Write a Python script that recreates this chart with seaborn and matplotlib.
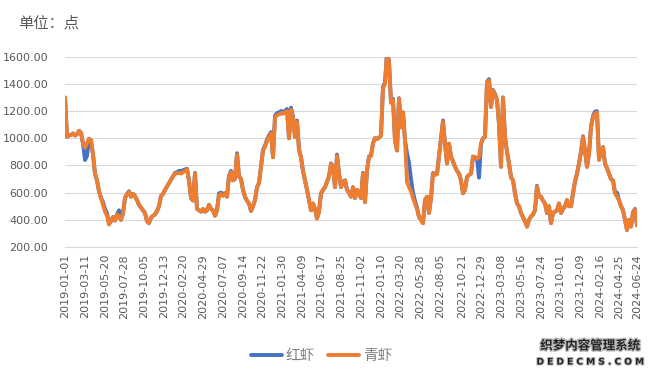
import numpy as np
import pandas as pd
import seaborn as sns
import matplotlib.pyplot as plt
import matplotlib.patheffects as pe

# weekly readings, starting 2019-01-01
start_date = '2019-01-01'

qing = [1300, 1010, 1020, 1025, 1035, 1020, 1030, 1055, 1040, 960,
        930, 965, 995, 985, 880, 740, 690, 610, 560, 510,
        460, 430, 365, 390, 420, 395, 440, 420, 400, 450,
        560, 590, 605, 570, 590, 575, 545, 510, 490, 470,
        450, 390, 375, 415, 430, 440, 465, 500, 575, 590,
        620, 645, 670, 695, 720, 740, 742, 745, 740, 750,
        760, 770, 690, 560, 540, 740, 480, 470, 460, 480,
        460, 470, 510, 480, 470, 430, 470, 580, 590, 575,
        595, 570, 720, 750, 690, 700, 880, 720, 700, 620,
        570, 540, 520, 465, 500, 545, 640, 670, 790, 905,
        935, 980, 1010, 1035, 860, 1150, 1170, 1175, 1185, 1180,
        1190, 1200, 1000, 1210, 1150, 1010, 1120, 910, 860, 760,
        690, 620, 545, 470, 520, 480, 410, 460, 595, 620,
        640, 680, 720, 810, 790, 640, 870, 740, 640, 680,
        690, 620, 600, 570, 640, 560, 620, 590, 560, 740,
        530, 760, 860, 870, 960, 1000, 995, 1005, 1020, 1370,
        1400, 1620, 1560, 1260, 1280, 985, 910, 1290, 1080, 1190,
        985, 680, 640, 610, 560, 520, 480, 420, 400, 375,
        545, 570, 450, 560, 740, 730, 735, 865, 1000, 1120,
        960, 815, 960, 865, 830, 790, 760, 740, 690, 595,
        620, 715, 730, 740, 865, 860, 850, 860, 960, 1000,
        1010, 1410, 1425, 1230, 1350, 1320, 1280, 1105, 790, 1300,
        1010, 900, 815, 715, 690, 595, 520, 500, 450, 420,
        390, 350, 400, 425, 440, 470, 645, 570, 570, 540,
        520, 450, 500, 375, 450, 460, 470, 520, 450, 480,
        500, 545, 500, 500, 595, 680, 740, 815, 900, 1010,
        910, 790, 885, 1080, 1155, 1180, 1190, 840, 910, 935,
        815, 780, 740, 700, 690, 595, 570, 545, 500, 470,
        400, 325, 400, 350, 450, 475, 360]

hong = [1300, 1010, 1020, 1025, 1035, 1020, 1030, 1055, 1040, 960,
        840, 870, 995, 985, 880, 740, 690, 610, 560, 530,
        480, 450, 375, 390, 420, 395, 440, 470, 400, 450,
        560, 590, 610, 570, 590, 575, 545, 510, 490, 470,
        450, 390, 375, 415, 430, 440, 465, 500, 575, 590,
        620, 645, 670, 695, 720, 745, 750, 760, 755, 765,
        770, 775, 690, 560, 545, 745, 480, 470, 460, 480,
        460, 470, 510, 480, 470, 430, 470, 595, 600, 590,
        595, 570, 725, 760, 690, 700, 890, 720, 700, 620,
        570, 540, 520, 465, 500, 545, 640, 670, 790, 915,
        945, 990, 1020, 1045, 860, 1165, 1185, 1190, 1200, 1195,
        1200, 1215, 1000, 1225, 1160, 1010, 1130, 920, 860, 760,
        690, 620, 545, 470, 520, 480, 410, 460, 595, 620,
        640, 680, 720, 815, 790, 640, 880, 740, 640, 680,
        690, 620, 600, 570, 640, 560, 620, 590, 560, 745,
        530, 765, 865, 875, 965, 1000, 995, 1005, 1020, 1380,
        1410, 1630, 1570, 1265, 1290, 985, 910, 1295, 1080, 1190,
        985, 890, 820, 700, 600, 540, 490, 420, 400, 375,
        545, 570, 450, 560, 745, 735, 740, 870, 1005, 1130,
        960, 815, 960, 865, 830, 790, 760, 740, 690, 595,
        620, 715, 730, 740, 865, 860, 850, 710, 960, 1000,
        1010, 1415, 1435, 1230, 1355, 1325, 1280, 1105, 790, 1300,
        1010, 900, 815, 715, 690, 595, 520, 500, 450, 420,
        390, 350, 400, 425, 440, 470, 650, 570, 570, 540,
        520, 450, 500, 375, 450, 460, 470, 520, 450, 480,
        500, 545, 500, 500, 595, 680, 740, 815, 900, 1015,
        910, 790, 885, 1085, 1165, 1195, 1200, 845, 915, 935,
        815, 780, 740, 700, 690, 600, 600, 545, 500, 470,
        400, 325, 400, 350, 455, 480, 360]

tick_dates = ['2019-01-01', '2019-03-11', '2019-05-20', '2019-07-28', '2019-10-05',
              '2019-12-13', '2020-02-20', '2020-04-29', '2020-07-07', '2020-09-14',
              '2020-11-22', '2021-01-30', '2021-04-09', '2021-06-17', '2021-08-25',
              '2021-11-02', '2022-01-10', '2022-03-20', '2022-05-28', '2022-08-05',
              '2022-10-21', '2022-12-29', '2023-03-08', '2023-05-16', '2023-07-24',
              '2023-10-01', '2023-12-09', '2024-02-16', '2024-04-25', '2024-06-24']

y_ticks = [200, 400, 600, 800, 1000, 1200, 1400, 1600]

dates = pd.date_range(start_date, periods=len(qing), freq='7D')
df = pd.concat([
    pd.DataFrame({'date': dates, 'value': hong, 'series': '红虾'}),
    pd.DataFrame({'date': dates, 'value': qing, 'series': '青虾'}),
])

sns.set_style('white')
plt.rcParams['font.family'] = ['Noto Sans CJK SC', 'DejaVu Sans']

fig = plt.figure(figsize=(6.5, 3.74), dpi=100)
ax = fig.add_axes([0.1, 0.3396, 0.88, 0.5088])

sns.lineplot(data=df, x='date', y='value', hue='series',
             palette={'红虾': '#4472C4', '青虾': '#ED7D31'},
             linewidth=2.8, ax=ax, legend=False)

ax.set_ylim(200, 1600)
ax.set_yticks(y_ticks)
ax.set_yticklabels([f'{v:.2f}' for v in y_ticks], fontsize=8, color='#595959',
                   family='DejaVu Sans')
ticks = pd.to_datetime(tick_dates)
ax.set_xlim(pd.Timestamp('2019-01-01'), pd.Timestamp('2024-06-25'))
ax.set_xticks(ticks)
ax.set_xticklabels(tick_dates, rotation=90, fontsize=8, color='#595959',
                   family='DejaVu Sans')
ax.tick_params(axis='y', length=0, pad=12)
ax.tick_params(axis='x', length=0, pad=5)
ax.grid(axis='y', color='#d9d9d9', linewidth=0.8)
ax.set_axisbelow(True)
for s in ['top', 'right', 'left']:
    ax.spines[s].set_visible(False)
ax.spines['bottom'].set_color('#d9d9d9')
ax.spines['bottom'].set_linewidth(0.8)
ax.set_xlabel('')
ax.set_ylabel('')

fig.text(0.028, 0.938, '单位：点', fontsize=11, color='#595959', va='center')

handles = [plt.Line2D([], [], color='#4472C4', lw=2.8),
           plt.Line2D([], [], color='#ED7D31', lw=2.8)]
fig.legend(handles, ['红虾', '青虾'], loc='center', bbox_to_anchor=(0.495, 0.047),
           ncol=2, frameon=False, fontsize=10.5, labelcolor='#7f7f7f',
           handlelength=2.1, handletextpad=0.3, columnspacing=0.9)

# watermark
fig.text(0.908, 0.075, '织梦内容管理系统', fontsize=9, fontweight='bold', ha='center',
         va='center', color='#222222',
         path_effects=[pe.withStroke(linewidth=2, foreground='#bbbbbb')])
fig.text(0.908, 0.032, 'D E D E C M S . C O M', fontsize=6.5, fontweight='bold',
         ha='center', va='center', color='#222222', family='DejaVu Sans',
         path_effects=[pe.withStroke(linewidth=1.5, foreground='#bbbbbb')])

fig.savefig('out.png', dpi=100)
